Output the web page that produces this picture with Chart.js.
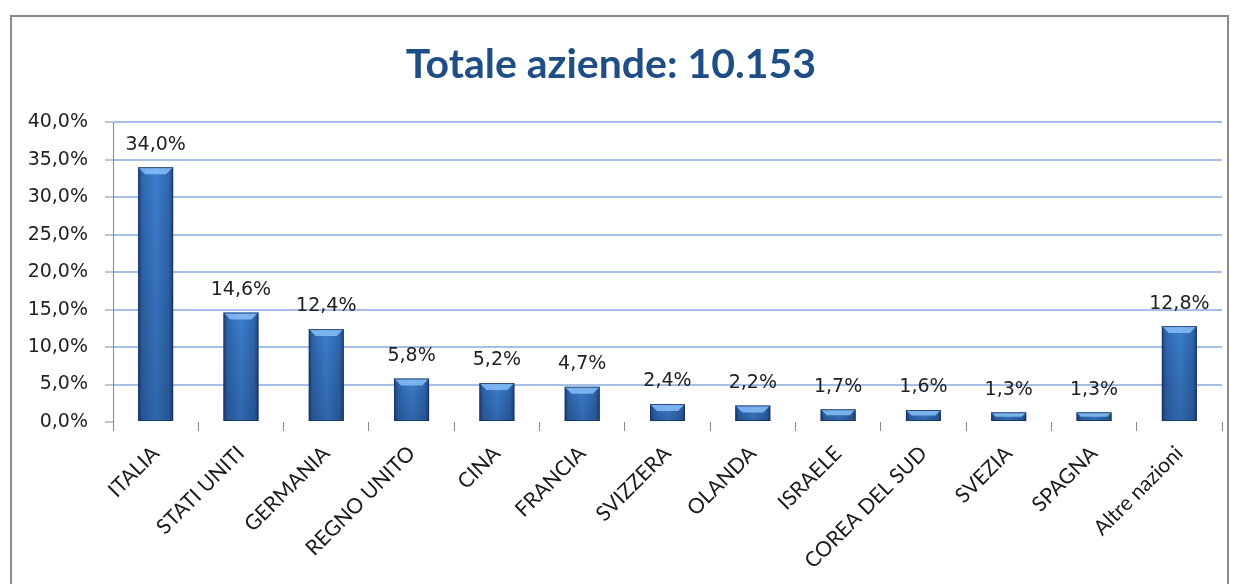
<!DOCTYPE html>
<html>
<head>
<meta charset="utf-8">
<script src="https://cdn.jsdelivr.net/npm/chart.js@4.4.1/dist/chart.umd.min.js"></script>
<style>
  html, body { margin: 0; padding: 0; background: #fff; }
  #wrap { position: relative; width: 1239px; height: 584px; overflow: hidden; }
  #frame { position: absolute; left: 10px; top: 15px; width: 1219px; height: 600px; border: 2px solid #8a8a8a; box-sizing: border-box; }
  canvas { position: absolute; left: 0; top: 0; }
</style>
</head>
<body>
<div id="wrap">
  <div id="frame"></div>
  <canvas id="chart" width="1239" height="584"></canvas>
</div>
<script>
// Dati del grafico
const categorie = ['ITALIA', 'STATI UNITI', 'GERMANIA', 'REGNO UNITO', 'CINA', 'FRANCIA',
  'SVIZZERA', 'OLANDA', 'ISRAELE', 'COREA DEL SUD', 'SVEZIA', 'SPAGNA', 'Altre nazioni'];
const percentuali = [34.0, 14.6, 12.4, 5.8, 5.2, 4.7, 2.4, 2.2, 1.7, 1.6, 1.3, 1.3, 12.8];
const titolo = 'Totale aziende: 10.153';

const BAR_PCT = 0.82;
const CAT_PCT = 0.5;

const fmt = v => v.toFixed(1).replace('.', ',') + '%';

// Gradiente orizzontale per le barre (bordi scuri, centro chiaro)
function barGradient(ctx) {
  const chart = ctx.chart;
  const xs = chart.scales && chart.scales.x;
  if (!xs || !Number.isFinite(xs.width) || xs.width <= 0 || ctx.dataIndex === undefined) return '#3a75c0';
  const x = xs.getPixelForValue(ctx.dataIndex);
  const w = xs.width / categorie.length * BAR_PCT * CAT_PCT;
  if (!Number.isFinite(x)) return '#3a75c0';
  const g = chart.ctx.createLinearGradient(x - w / 2, 0, x + w / 2, 0);
  g.addColorStop(0, '#1f4680');
  g.addColorStop(0.12, '#2f68b0');
  g.addColorStop(0.5, '#3d80d0');
  g.addColorStop(0.88, '#2f68b0');
  g.addColorStop(1, '#1f4680');
  return g;
}

// Smusso in cima alle barre, ombra verticale + etichette valore
const bevelAndLabels = {
  id: 'bevelAndLabels',
  afterDatasetsDraw(chart) {
    const ctx = chart.ctx;
    const meta = chart.getDatasetMeta(0);
    ctx.save();
    meta.data.forEach((bar, i) => {
      const w = bar.width;
      const left = bar.x - w / 2, right = bar.x + w / 2;
      const top = bar.y;
      const h = bar.base - top;
      // leggero scurimento verso il basso
      const vg = ctx.createLinearGradient(0, top, 0, bar.base);
      vg.addColorStop(0, 'rgba(0,0,0,0)');
      vg.addColorStop(1, 'rgba(10,30,70,0.25)');
      ctx.fillStyle = vg;
      ctx.fillRect(left, top, w, h);
      // smusso
      const bev = Math.min(7, h / 2);
      ctx.fillStyle = 'rgba(140, 195, 250, 0.8)';
      ctx.beginPath();
      ctx.moveTo(left, top);
      ctx.lineTo(right, top);
      ctx.lineTo(right - bev, top + bev);
      ctx.lineTo(left + bev, top + bev);
      ctx.closePath();
      ctx.fill();
      ctx.strokeStyle = 'rgba(20, 45, 90, 0.75)';
      ctx.lineWidth = 1;
      ctx.strokeRect(left + 0.5, top + 0.5, w - 1, h - 1);

      ctx.fillStyle = '#222';
      ctx.font = '19px "DejaVu Sans", sans-serif';
      ctx.textAlign = 'center';
      ctx.textBaseline = 'bottom';
      ctx.fillText(fmt(percentuali[i]), bar.x, top - 13);
    });
    ctx.restore();
  }
};

new Chart(document.getElementById('chart'), {
  type: 'bar',
  data: {
    labels: categorie,
    datasets: [{
      data: percentuali,
      backgroundColor: barGradient,
      borderWidth: 0,
      barPercentage: BAR_PCT,
      categoryPercentage: CAT_PCT
    }]
  },
  options: {
    responsive: false,
    animation: false,
    layout: { padding: { left: 0, right: 17, top: 0, bottom: 0 } },
    plugins: {
      legend: { display: false },
      tooltip: { enabled: false },
      title: {
        display: true,
        text: titolo,
        color: '#1f4e86',
        font: { family: 'Lato, "Open Sans", sans-serif', size: 41, weight: 'bold' },
        padding: { top: 40, bottom: 33 }
      }
    },
    scales: {
      x: {
        offset: true,
        grid: { display: true, drawOnChartArea: false, offset: true, tickLength: 9, color: '#8a8a8a' },
        border: { display: false },
        ticks: {
          minRotation: 45, maxRotation: 45,
          color: '#1a1a1a',
          font: { family: 'Lato, "Open Sans", sans-serif', size: 21 },
          padding: 10
        },
        afterFit(scale) { scale.height = 162; }
      },
      y: {
        min: 0, max: 40,
        ticks: {
          stepSize: 5,
          color: '#222',
          font: { family: '"DejaVu Sans", sans-serif', size: 19 },
          padding: 17,
          callback: v => fmt(v)
        },
        grid: {
          color: c => (c.tick && c.tick.value === 0) ? 'rgba(0,0,0,0)' : '#a6bfe8',
          lineWidth: 2, tickLength: 8, tickColor: '#8a8a8a', tickWidth: 1
        },
        border: { display: true, color: '#8a8a8a', width: 1 },
        afterFit(scale) { scale.width = 113; }
      }
    }
  },
  plugins: [bevelAndLabels]
});
</script>
</body>
</html>
